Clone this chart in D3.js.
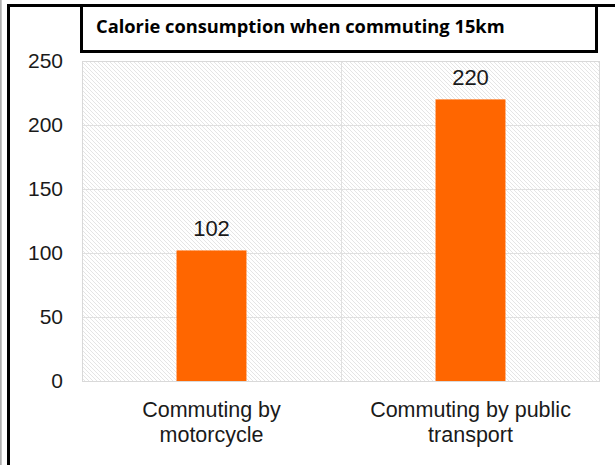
<!DOCTYPE html>
<html>
<head>
<meta charset="utf-8">
<script src="https://cdn.jsdelivr.net/npm/d3@7"></script>
<style>
  html, body { margin: 0; padding: 0; background: #fff; }
  svg { display: block; }
</style>
</head>
<body>
<svg id="chart" width="615" height="465"></svg>
<script>
// Calories burned on a 15 km commute
const title = "Calorie consumption when commuting 15km";
const categories = ["Commuting by motorcycle", "Commuting by public transport"];
const categoryLines = [["Commuting by", "motorcycle"], ["Commuting by public", "transport"]];
const calories = [102, 220];
const yTicks = [0, 50, 100, 150, 200, 250];

const W = 615, H = 465;
const plot = { left: 82, right: 600, top: 61, bottom: 381 };
const svg = d3.select("#chart");

// hatched plot background
const defs = svg.append("defs");
const pat = defs.append("pattern")
  .attr("id", "hatch")
  .attr("patternUnits", "userSpaceOnUse")
  .attr("width", 4).attr("height", 4);
pat.append("rect").attr("width", 4).attr("height", 4).attr("fill", "#fff");
pat.append("path")
  .attr("d", "M-1,-1 L5,5 M-1,3 L1,5 M3,-1 L5,1")
  .attr("stroke", "#e2e2e2").attr("stroke-width", 0.9);

const x = d3.scaleBand()
  .domain(categories)
  .range([plot.left, plot.right])
  .paddingInner(0.73)
  .paddingOuter(0.365);

const y = d3.scaleLinear()
  .domain([0, 250])
  .range([plot.bottom, plot.top]);

svg.append("rect")
  .attr("x", plot.left).attr("y", plot.top)
  .attr("width", plot.right - plot.left).attr("height", plot.bottom - plot.top)
  .attr("fill", "url(#hatch)");

// gridlines
svg.append("g").selectAll("line")
  .data(yTicks)
  .join("line")
  .attr("x1", plot.left).attr("x2", plot.right)
  .attr("y1", d => Math.round(y(d)) + 0.5).attr("y2", d => Math.round(y(d)) + 0.5)
  .attr("stroke", "#e0e0e0").attr("stroke-width", 1);

const step = x.step();
svg.append("line")
  .attr("x1", Math.round(plot.left + step) + 0.5).attr("x2", Math.round(plot.left + step) + 0.5)
  .attr("y1", plot.top).attr("y2", plot.bottom)
  .attr("stroke", "#e0e0e0");

svg.append("rect")
  .attr("x", plot.left + 0.5).attr("y", plot.top + 0.5)
  .attr("width", plot.right - plot.left - 1).attr("height", plot.bottom - plot.top)
  .attr("fill", "none").attr("stroke", "#d9d9d9");

// bars
svg.append("g").selectAll("rect")
  .data(categories)
  .join("rect")
  .attr("x", d => x(d))
  .attr("width", x.bandwidth())
  .attr("y", (d, i) => y(calories[i]))
  .attr("height", (d, i) => y(0) - y(calories[i]))
  .attr("fill", "#ff6600");

// value labels
svg.append("g").selectAll("text")
  .data(categories)
  .join("text")
  .attr("x", d => x(d) + x.bandwidth() / 2)
  .attr("y", (d, i) => y(calories[i]) - 14)
  .attr("text-anchor", "middle")
  .attr("font-family", "Liberation Sans, Arial, sans-serif")
  .attr("font-size", 22)
  .attr("fill", "#1a1a1a")
  .text((d, i) => calories[i]);

// y axis
const yAxis = svg.append("g")
  .attr("transform", `translate(${plot.left},0)`)
  .call(d3.axisLeft(y).tickValues(yTicks).tickSize(0).tickPadding(19));
yAxis.select(".domain").remove();
yAxis.selectAll("text")
  .attr("font-family", "Liberation Sans, Arial, sans-serif")
  .attr("font-size", 21)
  .attr("fill", "#1a1a1a");

// x axis with two-line category labels
const xAxis = svg.append("g")
  .attr("transform", `translate(0,${plot.bottom})`)
  .call(d3.axisBottom(x).tickSize(0).tickFormat(""));
xAxis.select(".domain").remove();
xAxis.selectAll(".tick text").remove();
xAxis.selectAll(".tick").append("text")
  .attr("text-anchor", "middle")
  .attr("font-family", "Liberation Sans, Arial, sans-serif")
  .attr("font-size", 21.5)
  .attr("fill", "#1a1a1a")
  .selectAll("tspan")
  .data(d => categoryLines[categories.indexOf(d)])
  .join("tspan")
  .attr("x", 0)
  .attr("y", (d, i) => 36 + i * 25)
  .text(d => d);

// outer frame and title box
svg.append("rect").attr("x", 0).attr("y", 0).attr("width", 1.7).attr("height", H).attr("fill", "#b0b0b0");
svg.append("rect").attr("x", 7).attr("y", 4).attr("width", 3).attr("height", H - 4).attr("fill", "#000");
svg.append("rect").attr("x", 7).attr("y", 4).attr("width", W - 7).attr("height", 3).attr("fill", "#000");
svg.append("rect").attr("x", 81.5).attr("y", 5.5).attr("width", 515).attr("height", 46)
  .attr("fill", "none").attr("stroke", "#000").attr("stroke-width", 3);

svg.append("text")
  .attr("x", 96).attr("y", 33)
  .attr("font-family", "Open Sans, Noto Sans, sans-serif")
  .attr("font-weight", 700)
  .attr("font-size", 18.3)
  .attr("fill", "#000")
  .text(title);
</script>
</body>
</html>
